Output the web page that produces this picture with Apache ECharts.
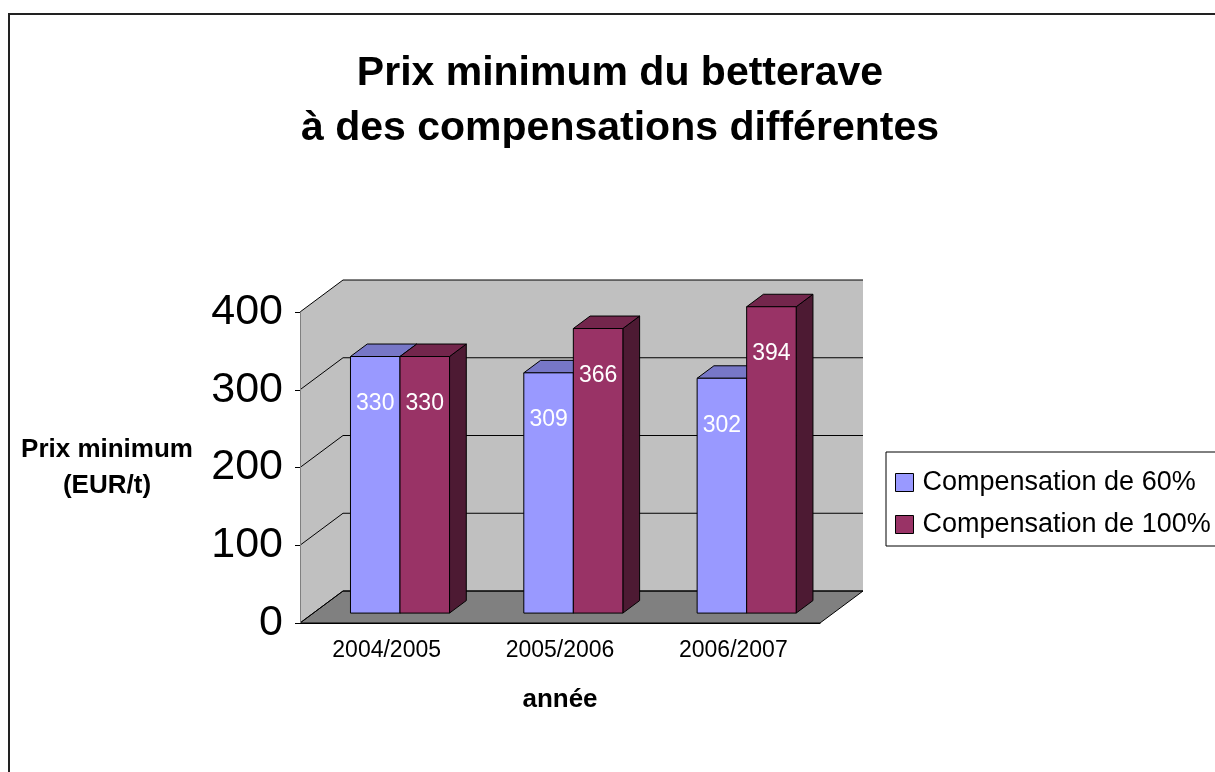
<!DOCTYPE html>
<html>
<head>
<meta charset="utf-8">
<script src="https://cdn.jsdelivr.net/npm/echarts@6/dist/echarts.min.js"></script>
<style>
    html, body { margin: 0; padding: 0; background: #fff; }
    #chart { width: 1215px; height: 772px; }
</style>
<title></title>
</head>
<body>
<div id="chart"></div>
<script type="text/javascript">
    // données
    var years = ['2004/2005', '2005/2006', '2006/2007'];
    var comp60 = [330, 309, 302];
    var comp100 = [330, 366, 394];
    var seriesNames = ['Compensation de 60%', 'Compensation de 100%'];
    var yTicks = [0, 100, 200, 300, 400];

    var FONT = '"Liberation Sans", Arial, sans-serif';
    var DX = 43, DY = 32;      // profondeur de la boite 3d (px)
    var T0 = 0.31, T1 = 0.70;  // les barres sont entre ces profondeurs
    var fronts = ['#9999ff', '#993366'];
    var tops = ['#7777c7', '#73264c'];
    var sides = ['#4d4d80', '#4d1a33'];

    function frameItem(params, api) {
        var cs = params.coordSys;
        var x = cs.x, y = cs.y, w = cs.width, h = cs.height;
        var kids = [
            {type: 'polygon', shape: {points: [[x, y], [x + DX, y - DY], [x + DX, y + h - DY], [x, y + h]]},
                style: {fill: '#c0c0c0'}},
            {type: 'rect', shape: {x: x + DX, y: y - DY, width: w, height: h}, style: {fill: '#c0c0c0'}},
            {type: 'polygon', shape: {points: [[x, y + h], [x + w, y + h], [x + w + DX, y + h - DY], [x + DX, y + h - DY]]},
                style: {fill: '#808080', stroke: '#000', lineWidth: 1}}
        ];
        yTicks.forEach(function (t) {
            var yy = api.coord([0, t])[1];
            kids.push({type: 'polyline', shape: {points: [[x, yy], [x + DX, yy - DY], [x + w + DX, yy - DY]]},
                style: {fill: null, stroke: '#000', lineWidth: 1}});
        });
        return {type: 'group', children: kids};
    }

    function barItem(k) {
        return function (params, api) {
            var j = api.value(0), v = api.value(1);
            var band = api.size([1, 0])[0];
            var bw = band / 3.5;
            var c = api.coord([j, v]);
            var base = api.coord([j, 0]);
            var xl = c[0] - bw + k * bw + T0 * DX;
            var xr = xl + bw;
            var yt = c[1] - T0 * DY;
            var yb = base[1] - T0 * DY;
            var ox = (T1 - T0) * DX, oy = (T1 - T0) * DY;
            return {type: 'group', children: [
                {type: 'polygon', shape: {points: [[xr, yt], [xr + ox, yt - oy], [xr + ox, yb - oy], [xr, yb]]},
                    style: {fill: sides[k], stroke: '#000', lineWidth: 1}},
                {type: 'polygon', shape: {points: [[xl, yt], [xr, yt], [xr + ox, yt - oy], [xl + ox, yt - oy]]},
                    style: {fill: tops[k], stroke: '#000', lineWidth: 1}},
                {type: 'rect', shape: {x: xl, y: yt, width: bw, height: yb - yt},
                    style: {fill: fronts[k], stroke: '#000', lineWidth: 1}},
                {type: 'text', style: {text: String(v), x: xl + bw / 2, y: yt + 47, fill: '#fff',
                    fontSize: 23, fontFamily: FONT, align: 'center', verticalAlign: 'middle'}}
            ]};
        };
    }

    var myChart = echarts.init(document.getElementById('chart'));
    var option = {
        animation: false,
        color: fronts,
        textStyle: {fontFamily: FONT, color: '#000'},
        title: {
            text: 'Prix minimum du betterave\nà des compensations différentes',
            left: 620,
            top: 46,
            textAlign: 'center',
            padding: 0,
            textStyle: {fontSize: 41, fontWeight: 'bold', lineHeight: 55, color: '#000', fontFamily: FONT}
        },
        legend: {
            orient: 'vertical',
            left: 886,
            top: 452,
            padding: [17, 40, 8, 9],
            itemGap: 15,
            itemWidth: 18,
            itemHeight: 18,
            borderColor: '#000',
            borderWidth: 1,
            itemStyle: {borderColor: '#000', borderWidth: 1},
            textStyle: {fontSize: 27, lineHeight: 27, color: '#000', fontFamily: FONT, padding: [0, 0, 0, 4]},
            data: [{name: seriesNames[0], icon: 'rect'}, {name: seriesNames[1], icon: 'rect'}]
        },
        grid: {left: 300, top: 312, width: 520, height: 311},
        xAxis: {
            type: 'category',
            data: years,
            z: 5,
            axisLine: {lineStyle: {color: '#000', width: 1}},
            axisTick: {length: 6, lineStyle: {color: '#000'}},
            axisLabel: {fontSize: 23, color: '#000', margin: 16, fontFamily: FONT},
            name: 'année',
            nameLocation: 'middle',
            nameGap: 77,
            nameTextStyle: {fontSize: 26, fontWeight: 'bold', verticalAlign: 'middle', color: '#000', fontFamily: FONT}
        },
        yAxis: {
            type: 'value',
            min: 0,
            max: 400,
            interval: 100,
            z: 5,
            axisLine: {show: true, lineStyle: {color: '#808080', width: 1}},
            axisTick: {show: true, length: 5, lineStyle: {color: '#000'}},
            axisLabel: {fontSize: 43, color: '#000', margin: 17, fontFamily: FONT, padding: [5, 0, 0, 0]},
            splitLine: {show: false},
            name: 'Prix minimum\n(EUR/t)',
            nameLocation: 'middle',
            nameRotate: 0,
            nameGap: 193,
            nameTextStyle: {fontSize: 26, fontWeight: 'bold', align: 'center', verticalAlign: 'middle',
                lineHeight: 36, color: '#000', fontFamily: FONT, padding: [6, 0, 0, 0]}
        },
        graphic: [{
            type: 'rect',
            shape: {x: 9, y: 14, width: 1400, height: 900},
            style: {fill: null, stroke: '#222', lineWidth: 2}
        }],
        series: [
            {type: 'custom', name: 'cadre', z: 1, clip: false, renderItem: frameItem, data: [[0, 0]]},
            {type: 'custom', name: seriesNames[0], z: 2, clip: false, renderItem: barItem(0),
                itemStyle: {color: fronts[0]}, encode: {x: 0, y: 1},
                data: years.map(function (y, i) { return [i, comp60[i]]; })},
            {type: 'custom', name: seriesNames[1], z: 3, clip: false, renderItem: barItem(1),
                itemStyle: {color: fronts[1]}, encode: {x: 0, y: 1},
                data: years.map(function (y, i) { return [i, comp100[i]]; })}
        ]
    };
    myChart.setOption(option);
</script>
</body>
</html>
